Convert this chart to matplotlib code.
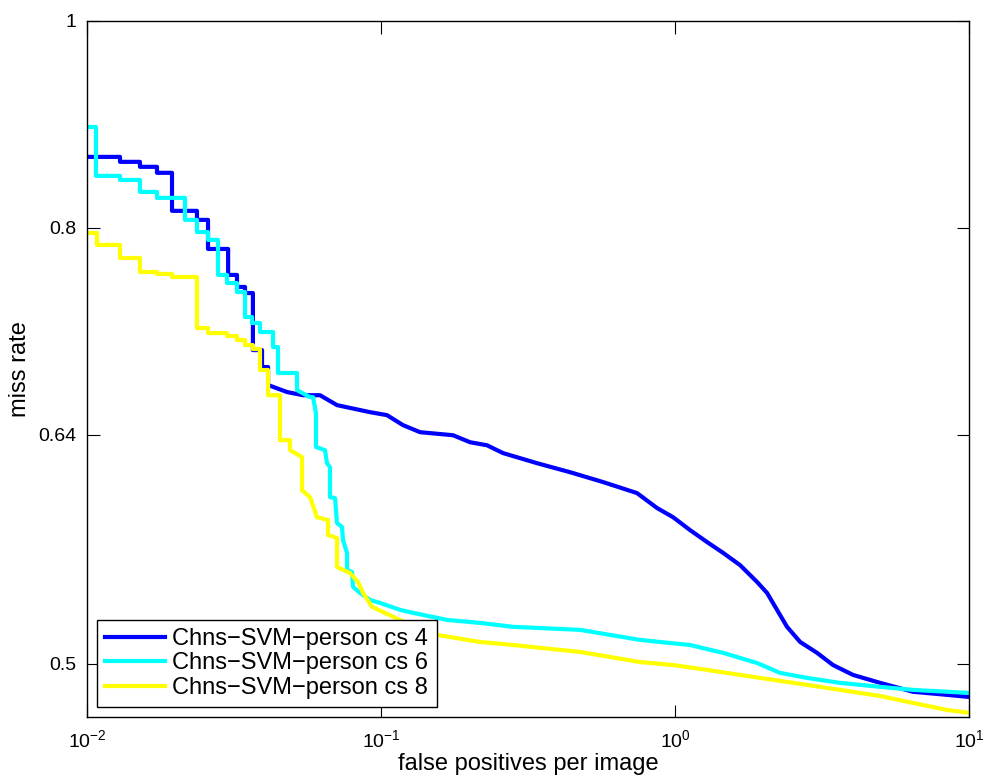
import numpy as np
import matplotlib
matplotlib.use('Agg')
import matplotlib.pyplot as plt
from matplotlib.ticker import FixedLocator, NullLocator, FixedFormatter

# Fonts (Helvetica-like)
plt.rcParams['font.family'] = ['Liberation Sans', 'DejaVu Sans']
plt.rcParams['mathtext.fontset'] = 'custom'
plt.rcParams['mathtext.rm'] = 'Liberation Sans'
plt.rcParams['mathtext.it'] = 'Liberation Sans:italic'
plt.rcParams['mathtext.default'] = 'regular'

# Data (fppi, miss rate)
fppi_cs4 = [0.0100, 0.01295, 0.01295, 0.01514, 0.01514, 0.01730, 0.01730, 0.01946, 0.01946,
            0.02366, 0.02366, 0.02580, 0.02580, 0.0302, 0.0302, 0.03237, 0.03237, 0.03447,
            0.03447, 0.03667, 0.03667, 0.03938, 0.03938, 0.04129, 0.04129, 0.04790, 0.05428,
            0.06202, 0.07085, 0.09176, 0.1048, 0.1188, 0.1358, 0.1757, 0.2008, 0.2294,
            0.2600, 0.3394, 0.4395, 0.5690, 0.7428, 0.8687, 0.9845, 1.125, 1.285, 1.457,
            1.664, 1.901, 2.055, 2.223, 2.404, 2.663, 3.041, 3.446, 4.031, 4.982, 6.449,
            8.417, 10.0]
miss_cs4 = [0.8637, 0.8637, 0.8591, 0.8591, 0.8545, 0.8545, 0.8490, 0.8490, 0.8149,
            0.8149, 0.8070, 0.8070, 0.7821, 0.7821, 0.7605, 0.7605, 0.7507, 0.7507,
            0.7458, 0.7458, 0.7013, 0.7013, 0.6886, 0.6886, 0.6754, 0.6703, 0.6680,
            0.6680, 0.6609, 0.6559, 0.6538, 0.6468, 0.6419, 0.6398, 0.6350, 0.6329,
            0.6276, 0.6208, 0.6148, 0.6083, 0.6011, 0.5915, 0.5857, 0.5776, 0.5702, 0.5636,
            0.5562, 0.5462, 0.5398, 0.5300, 0.5204, 0.5120, 0.5060, 0.4994, 0.4941, 0.4899,
            0.4852, 0.4836, 0.4825]

fppi_cs6 = [0.0100, 0.01073, 0.01073, 0.01295, 0.01295, 0.01514, 0.01514, 0.01730, 0.01730,
            0.02154, 0.02154, 0.02366, 0.02366, 0.02580, 0.02580, 0.02790, 0.02790, 0.02994,
            0.02994, 0.03237, 0.03237, 0.03447, 0.03447, 0.03641, 0.03641, 0.03876, 0.03876,
            0.04293, 0.04293, 0.04463, 0.04463, 0.05179, 0.05179, 0.05735, 0.05872, 0.06009,
            0.06009, 0.06450, 0.06551, 0.06707, 0.06707, 0.06975, 0.07085, 0.07369, 0.07426,
            0.07663, 0.07663, 0.07969, 0.08031, 0.08480, 0.09176, 0.0992, 0.1161, 0.1285,
            0.1677, 0.2171, 0.2812, 0.4753, 0.7603, 1.125, 1.457, 1.901, 2.276, 2.812,
            3.641, 4.982, 6.449, 10.0]
miss_cs6 = [0.8920, 0.8920, 0.8462, 0.8462, 0.8425, 0.8425, 0.8317, 0.8317, 0.8264,
            0.8264, 0.8070, 0.8070, 0.7965, 0.7965, 0.7898, 0.7898, 0.7605, 0.7605,
            0.7539, 0.7539, 0.7466, 0.7466, 0.7268, 0.7268, 0.7221, 0.7221, 0.7151,
            0.7151, 0.7036, 0.7036, 0.6842, 0.6842, 0.6717, 0.6666, 0.6666, 0.6552,
            0.6317, 0.6296, 0.6208, 0.6182, 0.5985, 0.5979, 0.5820, 0.5795, 0.5714,
            0.5636, 0.5533, 0.5521, 0.5433, 0.5398, 0.5357, 0.5340, 0.5300, 0.5283,
            0.5243, 0.5226, 0.5204, 0.5187, 0.5131, 0.5103, 0.5060, 0.5005, 0.4952, 0.4925,
            0.4899, 0.4878, 0.4862, 0.4846]

fppi_cs8 = [0.0100, 0.01081, 0.01081, 0.01295, 0.01295, 0.01514, 0.01514, 0.01730, 0.01730,
            0.01946, 0.01946, 0.02366, 0.02366, 0.02580, 0.02580, 0.02994, 0.02994, 0.03237,
            0.03237, 0.03447, 0.03447, 0.03667, 0.03667, 0.03876, 0.03876, 0.04129, 0.04129,
            0.04534, 0.04534, 0.04903, 0.04903, 0.05386, 0.05386, 0.05735, 0.06057, 0.06603,
            0.06603, 0.07085, 0.07085, 0.07845, 0.08351, 0.08685, 0.09320, 0.1016, 0.1255,
            0.1550, 0.2171, 0.2812, 0.4753, 0.7603, 0.9845, 1.285, 1.664, 2.154, 2.812,
            3.641, 4.982, 6.449, 8.417, 10.0]
miss_cs8 = [0.7957, 0.7957, 0.7855, 0.7855, 0.7745, 0.7745, 0.7629, 0.7629, 0.7613,
            0.7613, 0.7588, 0.7588, 0.7182, 0.7182, 0.7143, 0.7143, 0.7120, 0.7120,
            0.7089, 0.7089, 0.7051, 0.7051, 0.7021, 0.7021, 0.6864, 0.6864, 0.6680,
            0.6680, 0.6364, 0.6364, 0.6296, 0.6249, 0.6030, 0.5985, 0.5857, 0.5839,
            0.5745, 0.5727, 0.5550, 0.5515, 0.5462, 0.5398, 0.5317, 0.5288, 0.5215,
            0.5159, 0.5120, 0.5103, 0.5065, 0.5010, 0.4994, 0.4968, 0.4941, 0.4915, 0.4888,
            0.4862, 0.4830, 0.4794, 0.4758, 0.4743]

labels = ['Chns\u2212SVM\u2212person cs 4', 'Chns\u2212SVM\u2212person cs 6', 'Chns\u2212SVM\u2212person cs 8']
colors = [(0, 0, 1), (0, 1, 1), (1, 1, 0)]
ytick_vals = [0.5, 0.64, 0.8, 1.0]
ytick_labels = ['0.5', '0.64', '0.8', '1']
xtick_vals = [0.01, 0.1, 1, 10]

fig = plt.figure(figsize=(9.83, 7.8), dpi=100)
ax = fig.add_axes([0.0885, 0.0808, 0.8973, 0.8923])

ax.plot(fppi_cs4, miss_cs4, color=colors[0], linewidth=3, label=labels[0])
ax.plot(fppi_cs6, miss_cs6, color=colors[1], linewidth=3, label=labels[1])
ax.plot(fppi_cs8, miss_cs8, color=colors[2], linewidth=3, label=labels[2])

ax.set_xscale('log')
ax.set_yscale('log')
ax.set_xlim(0.01, 10)
ax.set_ylim(0.4722, 1.0)

ax.xaxis.set_major_locator(FixedLocator(xtick_vals))
ax.xaxis.set_minor_locator(NullLocator())
ax.yaxis.set_major_locator(FixedLocator(ytick_vals))
ax.yaxis.set_major_formatter(FixedFormatter(ytick_labels))
ax.yaxis.set_minor_locator(NullLocator())

ax.tick_params(which='both', direction='in', top=True, right=True, length=9, width=0.8,
               labelsize=14, pad=8)
ax.tick_params(axis='x', pad=9)
for s in ax.spines.values():
    s.set_linewidth(1.0)

ax.set_xlabel('false positives per image', fontsize=17, labelpad=1)
ax.set_ylabel('miss rate', fontsize=17, labelpad=5)

leg = ax.legend(loc='lower left', fontsize=17, handlelength=2.55, handletextpad=0.3,
                labelspacing=0.1, borderpad=0.35, borderaxespad=0.42, fancybox=False,
                framealpha=1)
leg.get_frame().set_edgecolor('black')
leg.get_frame().set_linewidth(1.0)

plt.savefig('out.png', dpi=100)
